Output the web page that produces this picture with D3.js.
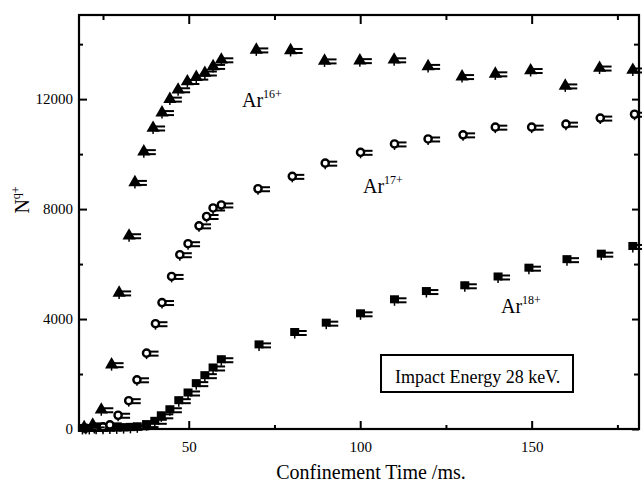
<!DOCTYPE html>
<html>
<head>
<meta charset="utf-8">
<script src="https://cdn.jsdelivr.net/npm/d3@7"></script>
<style>
  body { margin: 0; background: #fff; }
  svg { display: block; font-family: "Liberation Serif", "Times New Roman", serif; }
</style>
</head>
<body>
<div id="chart"></div>
<script>
// data (time in ms, N^q+)
const ar16_t = [19.5, 22, 24.5, 27.5, 29.7, 32.6, 34.3, 36.9, 39.6, 42.2, 44.5, 46.9, 49.6, 52.2, 54.7, 57.1, 59.5,
  69.7, 79.7, 89.6, 99.9, 109.9, 119.8, 129.7, 139.4, 149.7, 159.8, 169.8, 179.5];
const ar16_n = [60, 150, 700, 2340, 4950, 7030, 8970, 10090, 10950, 11510, 12000, 12340, 12640, 12800, 12950, 13190, 13430,
  13790, 13770, 13390, 13400, 13430, 13190, 12820, 12920, 13040, 12480, 13130, 13060];

const ar17_t = [20, 22.5, 25, 27, 29.4, 32.5, 34.9, 37.7, 40.3, 42.2, 45.0, 47.4, 49.8, 53.0, 55.2, 57.1, 59.5,
  70.2, 80.2, 89.8, 100.1, 110, 119.8, 130, 139.4, 150, 160, 170, 180];
const ar17_n = [30, 50, 80, 150, 500, 1030, 1790, 2760, 3830, 4600, 5550, 6340, 6740, 7390, 7730, 8040, 8150,
  8740, 9190, 9670, 10065, 10370, 10550, 10700, 10980, 10980, 11090, 11310, 11450];

const ar18_t = [19, 21, 23, 25, 27, 29, 31, 33, 35, 37.7, 40.1, 42, 44.5, 47.1, 49.8, 52.2, 54.7, 57.1, 59.5,
  70.5, 80.9, 90.1, 100.1, 110, 119.3, 130.5, 140.2, 149.2, 160.3, 170.3, 179.5];
const ar18_n = [20, 20, 30, 30, 40, 40, 50, 60, 80, 160, 280, 480, 700, 1030, 1310, 1650, 1940, 2220, 2520,
  3060, 3510, 3850, 4190, 4700, 5000, 5210, 5530, 5850, 6160, 6360, 6640];

const xMajor = [50, 100, 150];
const xMinor = [25, 75, 125, 175];
const yMajor = [0, 4000, 8000, 12000];
const yMinor = [2000, 6000, 10000, 14000];

// set the dimensions and margins of the graph
const margin = {top: 15, right: 3, bottom: 56, left: 79},
    width = 642 - margin.left - margin.right,
    height = 485 - margin.top - margin.bottom;

const svg = d3.select("#chart")
  .append("svg")
    .attr("width", 642)
    .attr("height", 485)
  .append("g")
    .attr("transform", `translate(${margin.left},${margin.top})`);

const x = d3.scaleLinear().domain([18, 181.3]).range([0, width]);
const y = d3.scaleLinear().domain([0, 15060]).range([height, 0]);

// axes: ticks point inward on all four sides
function addAxis(axis, transform, labels) {
  const g = svg.append("g").attr("transform", transform).call(axis);
  g.select(".domain").remove();
  g.selectAll(".tick line").attr("stroke", "#000").attr("stroke-width", 2);
  if (!labels) g.selectAll("text").remove();
  return g;
}

const xb = addAxis(d3.axisBottom(x).tickValues(xMajor).tickFormat(d3.format("d")).tickSizeInner(-8).tickSizeOuter(0).tickPadding(12),
  `translate(0,${height})`, true);
xb.selectAll("text").attr("font-size", 15).attr("font-family", "Liberation Serif").attr("fill", "#000");
addAxis(d3.axisBottom(x).tickValues(xMinor).tickSizeInner(-4).tickSizeOuter(0), `translate(0,${height})`, false);
addAxis(d3.axisTop(x).tickValues(xMajor).tickSizeInner(-9).tickSizeOuter(0), "translate(0,0)", false);
addAxis(d3.axisTop(x).tickValues(xMinor).tickSizeInner(-5).tickSizeOuter(0), "translate(0,0)", false);

const yl = addAxis(d3.axisLeft(y).tickValues(yMajor).tickFormat(d3.format("d")).tickSizeInner(-8).tickSizeOuter(0).tickPadding(6),
  "translate(0,0)", true);
yl.selectAll("text").attr("font-size", 15).attr("font-family", "Liberation Serif").attr("fill", "#000");
addAxis(d3.axisLeft(y).tickValues(yMinor).tickSizeInner(-4).tickSizeOuter(0), "translate(0,0)", false);
addAxis(d3.axisRight(y).tickValues(yMajor).tickSizeInner(-7).tickSizeOuter(0), `translate(${width},0)`, false);
addAxis(d3.axisRight(y).tickValues(yMinor).tickSizeInner(-5).tickSizeOuter(0), `translate(${width},0)`, false);

// frame
svg.append("rect")
  .attr("x", 0).attr("y", 0)
  .attr("width", width).attr("height", height)
  .attr("fill", "none").attr("stroke", "#000").attr("stroke-width", 2.2);

// markers with their little error bars
function series(ts, ns, shape) {
  const data = ts.map((t, i) => ({t: t, n: ns[i]}));
  const g = svg.append("g").selectAll("g").data(data).join("g")
    .attr("transform", d => `translate(${x(d.t)},${y(d.n)})`);
  g.append("line").attr("x1", 0).attr("x2", 0).attr("y1", -4).attr("y2", 6)
    .attr("stroke", "#000").attr("stroke-width", 1.5);
  g.append("line").attr("x1", 2).attr("x2", 12).attr("y1", -1.5).attr("y2", -1.5)
    .attr("stroke", "#000").attr("stroke-width", 2);
  g.append("line").attr("x1", 2).attr("x2", 12).attr("y1", 2.5).attr("y2", 2.5)
    .attr("stroke", "#000").attr("stroke-width", 2);
  if (shape === "triangle") {
    g.append("path").attr("d", d3.symbol(d3.symbolTriangle, 75)).attr("fill", "#000");
  } else if (shape === "circle") {
    g.append("circle").attr("r", 3.6).attr("fill", "#fff").attr("stroke", "#000").attr("stroke-width", 2.4);
  } else {
    g.append("rect").attr("x", -4.5).attr("y", -4.5).attr("width", 9).attr("height", 8).attr("fill", "#000");
  }
}
series(ar18_t, ar18_n, "square");
series(ar17_t, ar17_n, "circle");
series(ar16_t, ar16_n, "triangle");

// ion labels
function ionLabel(px, py, q) {
  const t = svg.append("text").attr("x", px - margin.left).attr("y", py - margin.top)
    .attr("font-size", 20).attr("fill", "#000");
  t.append("tspan").text("Ar");
  t.append("tspan").attr("font-size", 12).attr("dy", -9).text(q);
}
ionLabel(242, 107, "16+");
ionLabel(363, 193, "17+");
ionLabel(501, 313, "18+");

// legend box
svg.append("rect")
  .attr("x", 381 - margin.left).attr("y", 355 - margin.top)
  .attr("width", 192).attr("height", 37)
  .attr("fill", "#fff").attr("stroke", "#000").attr("stroke-width", 2);
svg.append("text")
  .attr("x", 395 - margin.left).attr("y", 383 - margin.top)
  .attr("font-size", 18).attr("fill", "#000")
  .text("Impact Energy 28 keV.");

// X-axis label
svg.append("text")
  .attr("text-anchor", "middle")
  .attr("x", 371 - margin.left)
  .attr("y", 479 - margin.top)
  .attr("font-size", 20)
  .text("Confinement Time /ms.");

// Y-axis label
const yt = svg.append("text")
  .attr("text-anchor", "middle")
  .attr("transform", `translate(${29 - margin.left},${200 - margin.top}) rotate(-90)`)
  .attr("font-size", 20);
yt.append("tspan").text("N");
yt.append("tspan").attr("font-size", 12).attr("dy", -9).text("q+");
</script>
</body>
</html>
